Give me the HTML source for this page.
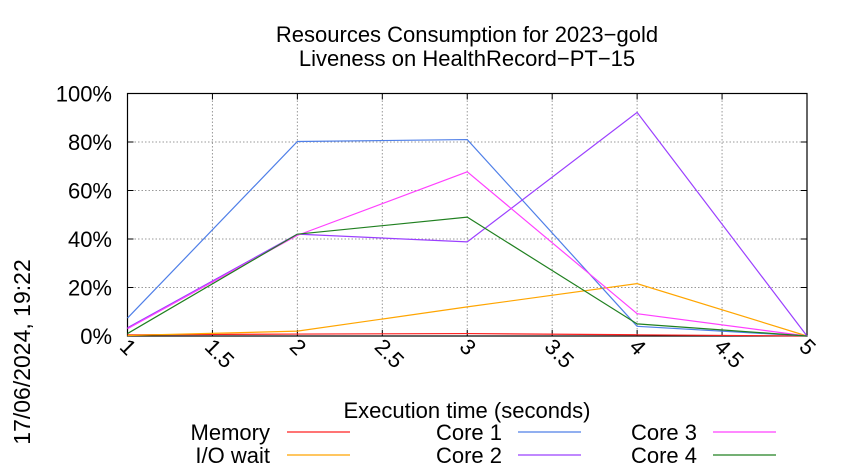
<!DOCTYPE html>
<html><head><meta charset="utf-8"><style>
html,body{margin:0;padding:0;background:#fff;}
svg{display:block;font-family:"Liberation Sans",sans-serif;}
</style></head><body>
<svg id="chart" width="850" height="475" viewBox="0 0 850 475" xmlns="http://www.w3.org/2000/svg">
<rect width="850" height="475" fill="#fff"/>
<g font-size="22" text-anchor="middle" fill="#000">
<text x="467" y="42">Resources Consumption for 2023−gold</text>
<text x="467" y="66">Liveness on HealthRecord−PT−15</text>
</g>
<g id="grid"></g>
<g id="axes"></g>
<g id="series"></g>
<text x="467" y="418" font-size="22" text-anchor="middle">Execution time (seconds)</text>
<text transform="translate(30,352) rotate(-90)" font-size="23" text-anchor="middle">17/06/2024, 19:22</text>
<g id="legend" font-size="22"></g>
</svg>
<script>
const xValues = [1, 2, 3, 4, 5];
const xTicks = [1, 1.5, 2, 2.5, 3, 3.5, 4, 4.5, 5];
const yTicks = [0, 20, 40, 60, 80, 100];
const seriesNames = ["Memory", "I/O wait", "Core 1", "Core 2", "Core 3", "Core 4"];
const seriesColors = ["#ff2020", "#ffa500", "#4f7fe8", "#9b40ff", "#ff40ff", "#208020"];
const memory = [0.5, 0.8, 1.0, 0.5, 0];
const ioWait = [0.2, 2.0, 12.0, 21.6, 0];
const core1 = [7.4, 80.2, 81.0, 4.0, 0];
const core2 = [3.4, 42.0, 38.8, 92.2, 0];
const core3 = [3.0, 41.5, 67.7, 9.2, 0];
const core4 = [1.0, 42.0, 49.0, 5.0, 0];

const NS = "http://www.w3.org/2000/svg";
const L = 127.5, R = 807, T = 93.5, B = 336;
function xs(v){ return L + (v - 1) / 4 * (R - L); }
function ys(v){ return B - v / 100 * (B - T); }
function mk(tag, attrs, parent){ const e = document.createElementNS(NS, tag); for (const k in attrs) e.setAttribute(k, attrs[k]); parent.appendChild(e); return e; }

const grid = document.getElementById('grid');
const axes = document.getElementById('axes');
yTicks.forEach(t => {
  const y = ys(t);
  if (t > 0) {
    const g = mk('line', {x1: L, x2: R, y1: y, y2: y, stroke: '#999', 'stroke-dasharray': '1.5,2', 'stroke-width': 1}, grid);
    
    
  }
  const tk = mk('path', {d: `M${L},${y}h6M${R},${y}h-6`, stroke: '#000', 'stroke-width': 1}, axes);
  
  
  const lb = mk('text', {x: 112, y: y + 8, 'font-size': 22, 'text-anchor': 'end'}, axes);
  lb.textContent = t + '%';
  
  
});
xTicks.forEach(t => {
  const x = xs(t);
  if (t > 1 && t < 5) {
    const g = mk('line', {x1: x, x2: x, y1: T, y2: B, stroke: '#999', 'stroke-dasharray': '1.5,2', 'stroke-width': 1}, grid);
    
    
  }
  const tk = mk('path', {d: `M${x},${B}v-6M${x},${T}v6`, stroke: '#000', 'stroke-width': 1}, axes);
  
  
  const lb = mk('text', {transform: `translate(${x - 9},${B + 12}) rotate(45)`, 'font-size': 22}, axes);
  lb.textContent = String(t);
  
  
});
const frame = mk('rect', {x: L, y: T, width: R - L, height: B - T, fill: 'none', stroke: '#000', 'stroke-width': 1.2}, axes);



const allSeries = [memory, ioWait, core1, core2, core3, core4];
const sg = document.getElementById('series');
allSeries.forEach((vals, i) => {
  const pts = vals.map((v, j) => xs(xValues[j]) + ',' + ys(v)).join(' ');
  const pl = mk('polyline', {points: pts, fill: 'none', stroke: seriesColors[i], 'stroke-width': 1.2}, sg);
  
  
});

const lg = document.getElementById('legend');
const legendTextX = [270, 270, 502, 502, 697, 697];
const legendLineX = [287, 287, 518, 518, 713, 713];
const legendY = [432, 455, 432, 455, 432, 455];
seriesNames.forEach((n, i) => {
  const t = mk('text', {x: legendTextX[i], y: legendY[i] + 8, 'text-anchor': 'end'}, lg);
  t.textContent = n;
  
  
  const ln = mk('line', {x1: legendLineX[i], x2: legendLineX[i] + 63, y1: legendY[i], y2: legendY[i], stroke: seriesColors[i], 'stroke-width': 1.2}, lg);
  
  
});
</script>
</body></html>
